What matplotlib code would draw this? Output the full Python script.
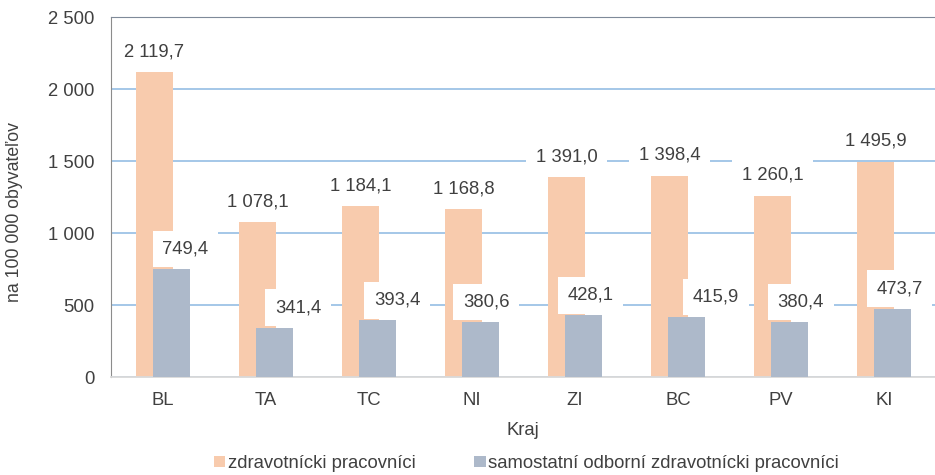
import numpy as np
import matplotlib.pyplot as plt

plt.rcParams["font.family"] = ["Liberation Sans", "DejaVu Sans"]

# data
kraje = ["BL", "TA", "TC", "NI", "ZI", "BC", "PV", "KI"]
zdrav = [2119.7, 1078.1, 1184.1, 1168.8, 1391.0, 1398.4, 1260.1, 1495.9]
samost = [749.4, 341.4, 393.4, 380.6, 428.1, 415.9, 380.4, 473.7]
series_names = ["zdravotnícki pracovníci", "samostatní odborní zdravotnícki pracovníci"]

# label nudges for the blue series (points, to the right of bar centre)
blue_dx = [10, 17, 14, 4, 5, 21, 8, 5]

c_orange = "#F8CBAD"
c_blue = "#ADB9CA"
c_text = "#404040"
fs = 13.3


def fmt(v):
    s = f"{v:,.1f}"
    return s.replace(",", " ").replace(".", ",")


fig = plt.figure(figsize=(9.35, 4.75), dpi=100)
ax = fig.add_axes([0.1187, 0.2063, 0.8813, 0.7579])

x = np.arange(len(kraje))
w = 0.355
off = 0.083

ax.bar(x - off, zdrav, w, color=c_orange, label=series_names[0], zorder=2)
ax.bar(x + off, samost, w, color=c_blue, label=series_names[1], zorder=3)

ax.set_xlim(-0.505, 7.495)
ax.set_ylim(0, 2500)
ax.set_yticks(range(0, 2501, 500))
ax.set_yticklabels([fmt(t).replace(",0", "") for t in range(0, 2501, 500)])
ax.set_xticks(x)
ax.set_xticklabels(kraje)
ax.tick_params(axis="both", length=0, labelsize=fs, colors=c_text)
ax.tick_params(axis="y", pad=12)
ax.tick_params(axis="x", pad=11)

ax.grid(axis="y", color="#9DC3E6", linewidth=1.3, zorder=0)
ax.set_axisbelow(True)
ax.spines["right"].set_visible(False)
ax.spines["top"].set_color("#7F8A99")
ax.spines["left"].set_color("#8C8C8C")
ax.spines["bottom"].set_color("#D9D9D9")
ax.spines["bottom"].set_linewidth(1.3)

box = dict(facecolor="white", edgecolor="none", pad=7)
for i in range(len(kraje)):
    ax.annotate(fmt(zdrav[i]), (x[i] - off, zdrav[i]), xytext=(0, 14.5),
                textcoords="offset points", ha="center", va="center",
                fontsize=fs, color=c_text, bbox=box, zorder=5)
    ax.annotate(fmt(samost[i]), (x[i] + off, samost[i]), xytext=(blue_dx[i], 14.5),
                textcoords="offset points", ha="center", va="center",
                fontsize=fs, color=c_text, bbox=box, zorder=5)

ax.set_xlabel("Kraj", fontsize=fs, color=c_text, labelpad=9)
fig.text(0.016, 0.554, "na 100 000 obyvateľov", rotation=90, ha="center",
         va="center", fontsize=12.7, color=c_text)

fig.legend(loc="center", bbox_to_anchor=(0.563, 0.024), ncol=2, frameon=False,
           fontsize=fs, handlelength=0.6, handleheight=0.6, handletextpad=0.15,
           columnspacing=3.2, labelcolor=c_text)

plt.savefig("out.png", dpi=100)
